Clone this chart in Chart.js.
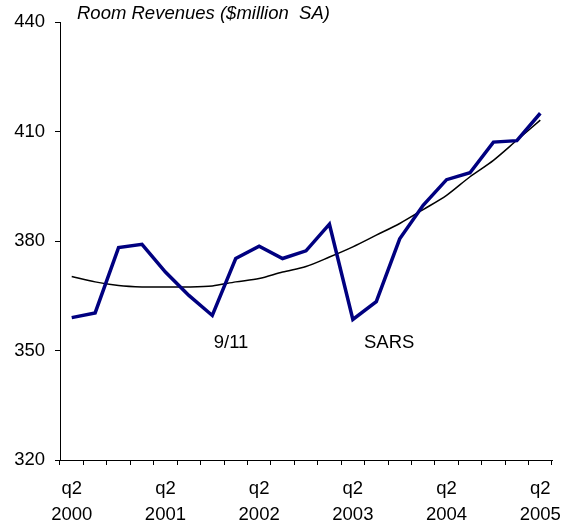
<!DOCTYPE html>
<html>
<head>
<meta charset="utf-8">
<script src="https://cdn.jsdelivr.net/npm/chart.js@4/dist/chart.umd.min.js"></script>
<style>
  html, body { margin: 0; padding: 0; background: #fff; }
  #wrap { width: 565px; height: 522px; position: relative; }
</style>
</head>
<body>
<div id="wrap"><canvas id="myChart"></canvas></div>
<script>
const quarters = ['q2 2000', 'q3 2000', 'q4 2000', 'q1 2001', 'q2 2001', 'q3 2001', 'q4 2001',
    'q1 2002', 'q2 2002', 'q3 2002', 'q4 2002', 'q1 2003', 'q2 2003', 'q3 2003', 'q4 2003',
    'q1 2004', 'q2 2004', 'q3 2004', 'q4 2004', 'q1 2005', 'q2 2005'];
const revenues = [359.0, 360.3, 378.2, 379.1, 371.5, 365.1, 359.6, 375.2, 378.6, 375.2, 377.3,
    384.6, 358.5, 363.4, 380.6, 389.8, 396.8, 398.7, 407.1, 407.5, 415.0];
const trend = [370.3, 368.8, 367.8, 367.4, 367.4, 367.4, 367.7, 368.8, 369.7, 371.5, 373.0,
    375.6, 378.4, 381.6, 384.8, 388.6, 392.5, 397.6, 402.1, 407.6, 413.1];
const yTicks = [320, 350, 380, 410, 440];
const chartTitle = 'Room Revenues ($million  SA)';
const events = [
    { text: '9/11', x: 6.8, y: 352.2 },
    { text: 'SARS', x: 13.55, y: 352.2 },
];

const FONT = '"Liberation Sans", Arial, sans-serif';

// title and event notes
const notes = {
    id: 'notes',
    afterDraw(chart) {
        const ctx = chart.ctx;
        const xs = chart.scales.x, ys = chart.scales.y;
        ctx.save();
        ctx.fillStyle = '#000';
        ctx.textBaseline = 'middle';
        ctx.font = 'italic 18.5px ' + FONT;
        ctx.textAlign = 'left';
        ctx.fillText(chartTitle, chart.chartArea.left + 17, 14);
        ctx.font = '18.5px ' + FONT;
        ctx.textAlign = 'center';
        for (const e of events) {
            ctx.fillText(e.text, xs.getPixelForValue(e.x), ys.getPixelForValue(e.y));
        }
        ctx.restore();
    }
};

new Chart(document.getElementById('myChart'), {
    type: 'line',
    data: {
        labels: quarters,
        datasets: [
            {
                label: 'Room revenues',
                data: revenues,
                borderColor: '#000080',
                borderWidth: 3.5,
                pointRadius: 0,
                tension: 0,
            },
            {
                label: 'Trend',
                data: trend,
                borderColor: '#000',
                borderWidth: 1.5,
                pointRadius: 0,
                tension: 0.3,
            },
        ],
    },
    options: {
        responsive: true,
        maintainAspectRatio: false,
        animation: false,
        layout: { padding: { top: 22, right: 0, left: 0, bottom: 0 } },
        plugins: {
            legend: { display: false },
            tooltip: { enabled: false },
        },
        scales: {
            x: {
                offset: true,
                grid: { offset: true, drawOnChartArea: false, color: '#000', tickLength: 5 },
                border: { color: '#000', width: 1 },
                ticks: {
                    autoSkip: false,
                    maxRotation: 0,
                    padding: 10,
                    color: '#000',
                    font: { family: FONT, size: 18.5, lineHeight: 1.45 },
                    callback: function (v, i) {
                        return i % 4 === 0 ? quarters[i].split(' ') : '';
                    },
                },
                afterFit: function (s) {
                    s.height = 62;
                    s.paddingRight = 13;
                    s.paddingLeft = 0;
                },
            },
            y: {
                min: 320,
                max: 440,
                afterBuildTicks: function (s) { s.ticks = yTicks.map(v => ({ value: v })); },
                grid: { drawOnChartArea: false, color: '#000', tickLength: 5 },
                border: { color: '#000', width: 1 },
                ticks: {
                    padding: 10,
                    color: '#000',
                    font: { family: FONT, size: 18.5 },
                },
                afterFit: function (s) { s.width = 60; },
            },
        },
    },
    plugins: [notes],
});
</script>
</body>
</html>
